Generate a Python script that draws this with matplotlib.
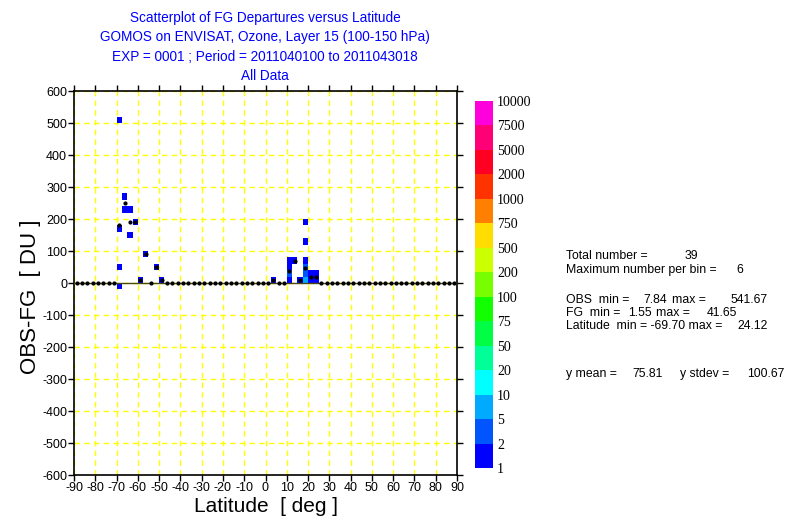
import numpy as np
import matplotlib
matplotlib.use("Agg")
import matplotlib.pyplot as plt
from matplotlib.colors import ListedColormap, BoundaryNorm
from matplotlib.cm import ScalarMappable

plt.rcParams['font.family'] = ['Liberation Sans', 'DejaVu Sans']
plt.rcParams['axes.unicode_minus'] = False

# OBS-FG departures (DU) and their latitudes, one entry per observation
lat = [-68.75, -68.75, -68.75, -68.75,
       -66.25, -66.25,
       -63.75, -63.75,
       -61.25, -58.75, -56.25, -51.25, -48.75,
       3.75,
       11.25, 11.25, 11.25, 11.25, 11.25,
       13.75, 16.25,
       18.75, 18.75, 18.75, 18.75, 18.75, 18.75, 18.75, 18.75,
       18.75, 18.75, 18.75, 18.75, 18.75, 18.75,
       21.25, 21.25, 23.75, 23.75]
dep = [510, 170, 50, -10,
       270, 230,
       230, 150,
       190, 10, 90, 50, 10,
       10,
       70, 50, 30, 30, 10,
       70, 10,
       190, 130, 70, 50, 50, 30, 30, 30,
       10, 10, 10, 10, 10, 10,
       30, 10, 30, 10]

# colour classes for the number of observations per bin
levels = [1, 2, 5, 10, 20, 50, 75, 100, 200, 500, 750, 1000, 2000, 5000, 7500, 10000]
level_colors = ['#0000FF', '#0055FF', '#00AAFF', '#00FFFF', '#00FF99', '#00FF44',
                '#11FF00', '#77FF00', '#CCFF00', '#FFDD00', '#FF8000', '#FF3300',
                '#FF0022', '#FF0077', '#FF00DD']

lat_edges = np.arange(-90, 90.01, 2.5)
dep_edges = np.arange(-600, 600.01, 20)

W, H = 787, 524
fig = plt.figure(figsize=(W / 100, H / 100), dpi=100)
ax = fig.add_axes([74 / W, 1 - 475 / H, 383 / W, 384 / H])

cmap = ListedColormap(level_colors)
norm = BoundaryNorm(levels, cmap.N)

ax.grid(True, color='#FFFF00', linestyle=(0, (4, 3)), linewidth=1)
ax.set_axisbelow(True)

ax.hist2d(lat, dep, bins=[lat_edges, dep_edges], cmap=cmap, norm=norm, cmin=1, zorder=2)

# mean departure per latitude band (zero where the band is empty)
counts, _ = np.histogram(lat, bins=lat_edges)
sums, _ = np.histogram(lat, bins=lat_edges, weights=dep)
means = np.where(counts > 0, sums / np.maximum(counts, 1), 0.0)
centres = 0.5 * (lat_edges[:-1] + lat_edges[1:])
ax.axhline(0, color='#4a4a10', linewidth=1.0, zorder=3)
ax.plot(centres, means, linestyle='none', marker='o', markersize=2.0,
        color='black', zorder=4)

ax.set_xlim(-90, 90)
ax.set_ylim(-600, 600)
ax.set_xticks(np.arange(-90, 91, 10))
ax.set_yticks(np.arange(-600, 601, 100))
ax.tick_params(direction='out', length=4, width=1, labelsize=9,
               top=True, right=True, pad=1)
for s in ax.spines.values():
    s.set_linewidth(1.2)

ax.set_xlabel("Latitude  [ deg ]", fontsize=15, labelpad=2)
ax.set_ylabel("OBS-FG  [ DU ]", fontsize=16)
ax.yaxis.set_label_coords(-0.087, 0.463)

title = ("Scatterplot of FG Departures versus Latitude\n"
         "GOMOS on ENVISAT, Ozone, Layer 15 (100-150 hPa)\n"
         "EXP = 0001 ; Period = 2011040100 to 2011043018\n"
         "All Data")
fig.text(265 / W, 1 - 11 / H, title, color='#0000FF', fontsize=9.8,
         ha='center', va='top', linespacing=1.5)

# colour bar
cax = fig.add_axes([475 / W, 1 - 468 / H, 18 / W, 367 / H])
sm = ScalarMappable(norm=norm, cmap=cmap)
cb = fig.colorbar(sm, cax=cax, ticks=levels, spacing='uniform')
cb.outline.set_visible(False)
cax.tick_params(length=0, pad=3)
cax.set_yticklabels([str(v) for v in levels], family='Liberation Serif', fontsize=10)

# statistics panel
def put(x, y, s, ha='left'):
    fig.text(x / W, 1 - y / H, s, fontsize=8.8, ha=ha, va='center')

put(566, 256, "Total number =")
put(698, 256, "39", 'right')
put(566, 270, "Maximum number per bin =")
put(743, 270, "6", 'right')
put(566, 300, "OBS  min =")
put(667, 300, "7.84", 'right')
put(672, 300, "max =")
put(768, 300, "541.67", 'right')
put(566, 313, "FG  min =")
put(652, 313, "1.55", 'right')
put(656, 313, "max =")
put(737, 313, "41.65", 'right')
put(566, 326, "Latitude  min = -69.70 max =")
put(768, 326, "24.12", 'right')
put(566, 374, "y mean =")
put(663, 374, "75.81", 'right')
put(680, 374, "y stdev =")
put(785, 374, "100.67", 'right')

fig.savefig("out.png", dpi=100)
